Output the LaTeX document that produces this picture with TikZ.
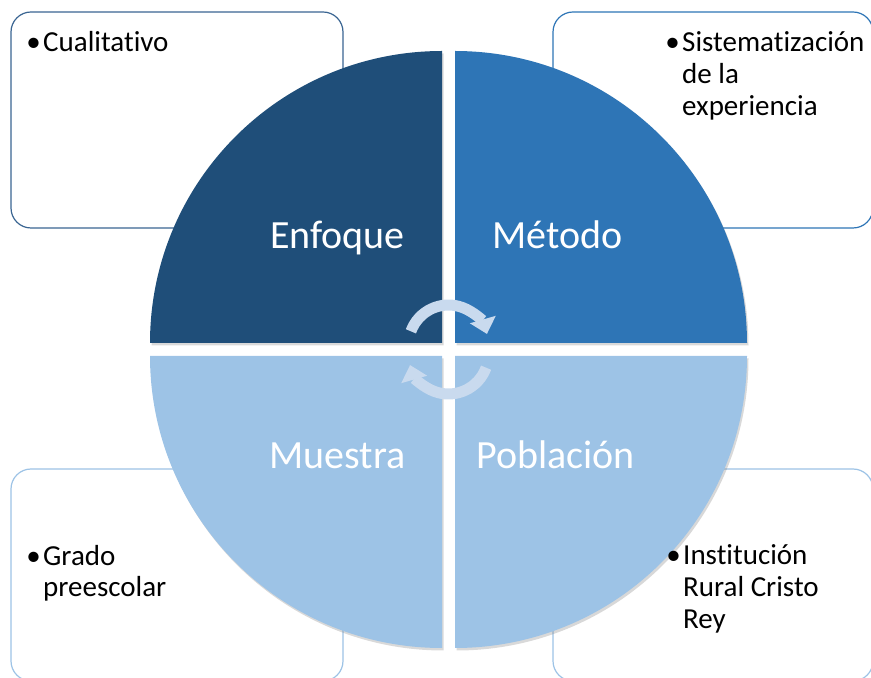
\documentclass[tikz,border=0pt]{standalone}
\usepackage{fontspec}
\setmainfont[Ligatures=NoCommon]{Carlito}
\usetikzlibrary{positioning,arrows.meta,shadows}
\definecolor{darkBlue}{HTML}{1F4E79}
\definecolor{midBlue}{HTML}{2E75B6}
\definecolor{lightBlue}{HTML}{9DC3E6}
\definecolor{turnBlue}{HTML}{C9DAEE}
\definecolor{lineDark}{HTML}{3A6592}
\newcommand{\bul}{\llap{•\hspace{2.5pt}}}
\tikzstyle{quarter}   =[drop shadow={shadow xshift=1.5pt,shadow yshift=-2.5pt,opacity=0.3}]
\tikzstyle{boxNote}   =[draw, fill=white, rounded corners=20pt, line width=1.2pt, minimum width=332pt, minimum height=216pt]
\tikzstyle{quarterText}=[text=white, font=\fontsize{40}{46}\selectfont, anchor=base]
\tikzstyle{bulletText}=[align=left, anchor=base west, inner sep=0pt, font=\fontsize{29}{32}\selectfont]
\tikzstyle{turn}      =[turnBlue, line width=11pt, -{Triangle[width=26pt,length=15pt]}]

\begin{document}
\begin{tikzpicture}[x=1pt,y=1pt]
      \useasboundingbox (0,0) rectangle (871,678);
      % boxes behind the circle
      \node[boxNote, draw=lineDark] (boxEnfoque) at (177,558) {};
      \node[boxNote, draw=midBlue, minimum width=320pt] (boxMetodo) at (713,558) {};
      \node[boxNote, draw=lightBlue, minimum height=212pt] (boxMuestra) at (177,103) {};
      \node[boxNote, draw=lightBlue, minimum width=320pt, minimum height=212pt] (boxPoblacion) at (713,103) {};
      % the four quarters
      \fill[darkBlue, quarter] (442,335) -- (150,335) arc[start angle=180, end angle=90, radius=292] -- cycle;
      \fill[midBlue, quarter] (455,335) -- (455,627) arc[start angle=90, end angle=0, radius=292] -- cycle;
      \fill[lightBlue, quarter] (442,322) -- (150,322) arc[start angle=180, end angle=270, radius=292] -- cycle;
      \fill[lightBlue, quarter] (455,322) -- (747,322) arc[start angle=0, end angle=-90, radius=292] -- cycle;
      \node[quarterText] (enfoque) at (337.5,429) {Enfoque};
      \node[quarterText] (metodo) at (557.5,429) {Método};
      \node[quarterText] (muestra) at (337.5,209) {Muestra};
      \node[quarterText] (poblacion) at (555.5,209) {Población};
      % turning arrows
      \coordinate (upperHub) at (448.5,333);
      \coordinate (lowerHub) at (448.5,324);
      \draw[turn] ([shift={(160:40)}]upperHub) arc[start angle=160, end angle=16, radius=40];
      \draw[turn] ([shift={(-20:40)}]lowerHub) arc[start angle=-20, end angle=-164, radius=40];
      % texts in the boxes (base = last line)
      \node[bulletText] (cualitativo) at (43,626) {\bul Cualitativo};
      \node[bulletText] (sistematizacion) at (682,562) {\bul Sistematización\\de la\\experiencia};
      \node[bulletText] (grado) at (43,81) {\bul Grado\\preescolar};
      \node[bulletText] (institucion) at (683,49) {\bul Institución\\Rural Cristo\\Rey};
\end{tikzpicture}
\end{document}
